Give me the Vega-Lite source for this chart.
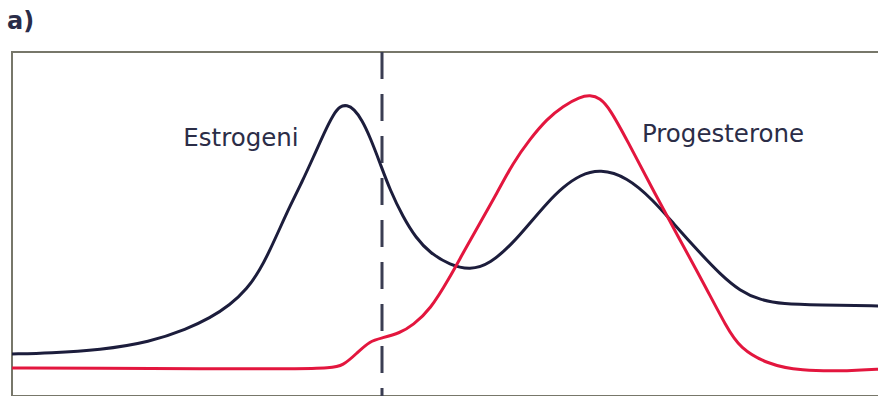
{
  "$schema": "https://vega.github.io/schema/vega-lite/v6.json",
  "autosize": "none",
  "width": 880,
  "height": 344,
  "padding": {"left": 12, "top": 52, "right": 0, "bottom": 0},
  "background": "white",
  "title": {"text": "a)", "anchor": "start", "frame": "group", "font": "DejaVu Sans", "fontSize": 24, "fontWeight": "bold", "color": "#2a2c48", "offset": 17, "dx": -5},
  "config": {"view": {"stroke": "#77776a", "strokeWidth": 2}},
  "datasets": {
    "curves": [
      {"hormone": "Estrogeni", "t": 0, "level": 42},
      {"hormone": "Estrogeni", "t": 38, "level": 43},
      {"hormone": "Estrogeni", "t": 88, "level": 46},
      {"hormone": "Estrogeni", "t": 138, "level": 54},
      {"hormone": "Estrogeni", "t": 175, "level": 67},
      {"hormone": "Estrogeni", "t": 198, "level": 78},
      {"hormone": "Estrogeni", "t": 218, "level": 91},
      {"hormone": "Estrogeni", "t": 235, "level": 107},
      {"hormone": "Estrogeni", "t": 248, "level": 126},
      {"hormone": "Estrogeni", "t": 258, "level": 146},
      {"hormone": "Estrogeni", "t": 268, "level": 168},
      {"hormone": "Estrogeni", "t": 278, "level": 190},
      {"hormone": "Estrogeni", "t": 290, "level": 214},
      {"hormone": "Estrogeni", "t": 301, "level": 238},
      {"hormone": "Estrogeni", "t": 313, "level": 265},
      {"hormone": "Estrogeni", "t": 321, "level": 281},
      {"hormone": "Estrogeni", "t": 328, "level": 290},
      {"hormone": "Estrogeni", "t": 335, "level": 291},
      {"hormone": "Estrogeni", "t": 342, "level": 287},
      {"hormone": "Estrogeni", "t": 350, "level": 276},
      {"hormone": "Estrogeni", "t": 358, "level": 259},
      {"hormone": "Estrogeni", "t": 368, "level": 233},
      {"hormone": "Estrogeni", "t": 378, "level": 206},
      {"hormone": "Estrogeni", "t": 391, "level": 179},
      {"hormone": "Estrogeni", "t": 404, "level": 158},
      {"hormone": "Estrogeni", "t": 418, "level": 143},
      {"hormone": "Estrogeni", "t": 438, "level": 131},
      {"hormone": "Estrogeni", "t": 458, "level": 126},
      {"hormone": "Estrogeni", "t": 478, "level": 132},
      {"hormone": "Estrogeni", "t": 501, "level": 153},
      {"hormone": "Estrogeni", "t": 518, "level": 173},
      {"hormone": "Estrogeni", "t": 535, "level": 193},
      {"hormone": "Estrogeni", "t": 551, "level": 209},
      {"hormone": "Estrogeni", "t": 568, "level": 221},
      {"hormone": "Estrogeni", "t": 588, "level": 227},
      {"hormone": "Estrogeni", "t": 615, "level": 219},
      {"hormone": "Estrogeni", "t": 641, "level": 196},
      {"hormone": "Estrogeni", "t": 661, "level": 173},
      {"hormone": "Estrogeni", "t": 688, "level": 143},
      {"hormone": "Estrogeni", "t": 708, "level": 122},
      {"hormone": "Estrogeni", "t": 728, "level": 105},
      {"hormone": "Estrogeni", "t": 748, "level": 96},
      {"hormone": "Estrogeni", "t": 771, "level": 92},
      {"hormone": "Estrogeni", "t": 805, "level": 91},
      {"hormone": "Estrogeni", "t": 870, "level": 90},
      {"hormone": "Progesterone", "t": 0, "level": 28},
      {"hormone": "Progesterone", "t": 88, "level": 28},
      {"hormone": "Progesterone", "t": 188, "level": 27},
      {"hormone": "Progesterone", "t": 288, "level": 27},
      {"hormone": "Progesterone", "t": 318, "level": 28},
      {"hormone": "Progesterone", "t": 331, "level": 30},
      {"hormone": "Progesterone", "t": 345, "level": 43},
      {"hormone": "Progesterone", "t": 358, "level": 55},
      {"hormone": "Progesterone", "t": 370, "level": 58},
      {"hormone": "Progesterone", "t": 388, "level": 63},
      {"hormone": "Progesterone", "t": 401, "level": 71},
      {"hormone": "Progesterone", "t": 418, "level": 86},
      {"hormone": "Progesterone", "t": 438, "level": 119},
      {"hormone": "Progesterone", "t": 451, "level": 143},
      {"hormone": "Progesterone", "t": 468, "level": 173},
      {"hormone": "Progesterone", "t": 485, "level": 203},
      {"hormone": "Progesterone", "t": 501, "level": 233},
      {"hormone": "Progesterone", "t": 518, "level": 257},
      {"hormone": "Progesterone", "t": 535, "level": 277},
      {"hormone": "Progesterone", "t": 551, "level": 290},
      {"hormone": "Progesterone", "t": 568, "level": 299},
      {"hormone": "Progesterone", "t": 578, "level": 301},
      {"hormone": "Progesterone", "t": 588, "level": 298},
      {"hormone": "Progesterone", "t": 598, "level": 287},
      {"hormone": "Progesterone", "t": 615, "level": 256},
      {"hormone": "Progesterone", "t": 641, "level": 206},
      {"hormone": "Progesterone", "t": 668, "level": 156},
      {"hormone": "Progesterone", "t": 691, "level": 114},
      {"hormone": "Progesterone", "t": 715, "level": 68},
      {"hormone": "Progesterone", "t": 728, "level": 48},
      {"hormone": "Progesterone", "t": 755, "level": 32},
      {"hormone": "Progesterone", "t": 788, "level": 25},
      {"hormone": "Progesterone", "t": 838, "level": 25},
      {"hormone": "Progesterone", "t": 870, "level": 27}
    ],
    "ovulation": [{"t": 370}],
    "labels": [
      {"hormone": "Estrogeni", "t": 229, "level": 250},
      {"hormone": "Progesterone", "t": 711, "level": 254}
    ]
  },
  "layer": [
    {
      "data": {"name": "ovulation"},
      "mark": {"type": "rule", "color": "#3a3d52", "strokeWidth": 3, "strokeDash": [27, 15]},
      "encoding": {
        "x": {"field": "t", "type": "quantitative", "scale": {"domain": [0, 880]}, "axis": null}
      }
    },
    {
      "data": {"name": "curves"},
      "mark": {"type": "line", "interpolate": "basis", "strokeWidth": 3},
      "encoding": {
        "x": {"field": "t", "type": "quantitative", "scale": {"domain": [0, 880]}, "axis": null},
        "y": {"field": "level", "type": "quantitative", "scale": {"domain": [0, 344]}, "axis": null},
        "color": {"field": "hormone", "type": "nominal", "scale": {"domain": ["Estrogeni", "Progesterone"], "range": ["#1c1d3c", "#e3163e"]}, "legend": null}
      }
    },
    {
      "data": {"name": "labels"},
      "mark": {"type": "text", "font": "DejaVu Sans", "fontSize": 24.5, "align": "center", "baseline": "alphabetic", "color": "#2b2d47"},
      "encoding": {
        "x": {"field": "t", "type": "quantitative", "scale": {"domain": [0, 880]}, "axis": null},
        "y": {"field": "level", "type": "quantitative", "scale": {"domain": [0, 344]}, "axis": null},
        "text": {"field": "hormone"}
      }
    }
  ]
}
